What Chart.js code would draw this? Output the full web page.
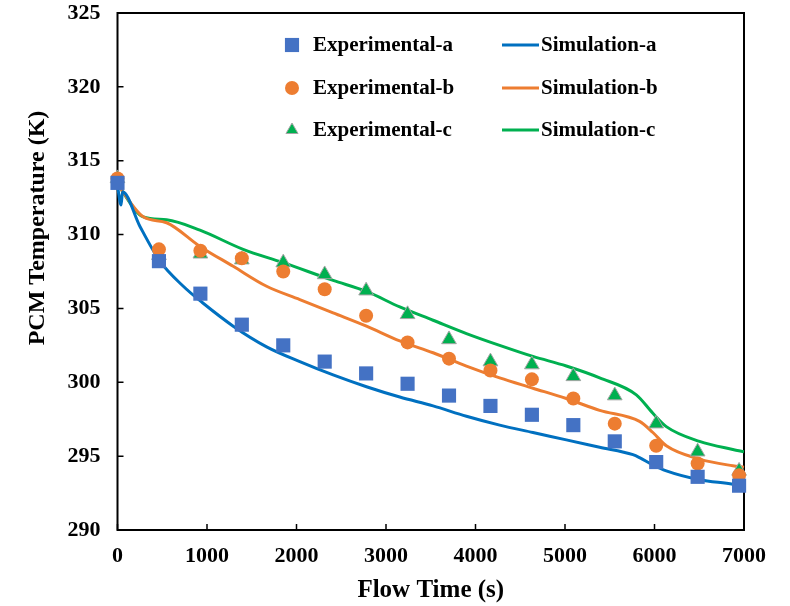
<!DOCTYPE html>
<html>
<head>
<meta charset="utf-8">
<script src="https://cdn.jsdelivr.net/npm/chart.js@4.4.1/dist/chart.umd.min.js"></script>
<style>
  body { margin: 0; background: #ffffff; }
  #wrap { width: 790px; height: 606px; }
</style>
</head>
<body>
<div id="wrap"><canvas id="pcmChart" width="790" height="606"></canvas></div>
<script>
// Data
const expTime = [0, 463, 926, 1389, 1852, 2315, 2778, 3241, 3704, 4167, 4630, 5093, 5556, 6019, 6482, 6945];
const expA = [313.5, 308.2, 306.0, 303.9, 302.5, 301.4, 300.6, 299.9, 299.1, 298.4, 297.8, 297.1, 296.0, 294.6, 293.6, 293.0];
const expB = [313.8, 309.0, 308.9, 308.4, 307.5, 306.3, 304.5, 302.7, 301.6, 300.8, 300.2, 298.9, 297.2, 295.7, 294.5, 293.7];
const expC = [313.8, 308.6, 308.7, 308.3, 308.1, 307.3, 306.2, 304.6, 302.9, 301.4, 301.2, 300.4, 299.1, 297.2, 295.3, 294.0];

const simTimeA = [0, 40, 56, 251, 474, 735, 947, 1293, 1666, 2037, 2409, 2782, 3154, 3526, 3899, 4270, 4642, 5015, 5387, 5759, 5833, 5982, 6132, 6503, 6875, 7000];
const simA = [313.3, 312.0, 312.9, 310.55, 308.2, 306.5, 305.4, 303.8, 302.4, 301.4, 300.5, 299.7, 299.0, 298.4, 297.7, 297.1, 296.6, 296.1, 295.6, 295.1, 294.9, 294.4, 294.0, 293.4, 293.1, 292.95];
const simTimeB = [0, 288, 549, 921, 1293, 1666, 2037, 2409, 2782, 3154, 3526, 3899, 4270, 4642, 5015, 5387, 5833, 5982, 6132, 6503, 6875, 7000];
const simB = [313.4, 311.2, 310.8, 309.2, 307.85, 306.5, 305.6, 304.7, 303.8, 302.8, 302.0, 301.1, 300.3, 299.6, 298.9, 298.1, 297.35, 296.6, 295.7, 294.8, 294.35, 294.25];
const simTimeC = [0, 288, 549, 921, 1404, 1851, 2409, 2782, 3154, 3526, 3899, 4270, 4642, 5015, 5387, 5797, 5982, 6132, 6503, 6875, 7000];
const simC = [313.4, 311.2, 311.0, 310.3, 309.0, 308.1, 306.9, 306.15, 305.1, 304.2, 303.3, 302.5, 301.75, 301.1, 300.3, 299.15, 297.9, 297.0, 296.0, 295.45, 295.3];

const xTitle = 'Flow Time (s)';
const yTitle = 'PCM Temperature (K)';
const FONT = '"Liberation Serif", "Times New Roman", serif';

function toXY(xs, ys) { //pair up x and y arrays
    return xs.map((x, i) => ({ x: x, y: ys[i] }));
}

function markerSet(label, xs, ys, style, fill, edge, r) { //experimental markers
    return {
        label: label, data: toXY(xs, ys), showLine: false, order: 1, clip: false,
        pointStyle: style, pointRadius: r, pointHoverRadius: r,
        backgroundColor: fill, borderColor: edge, borderWidth: edge === fill ? 0 : 1
    };
}

function lineSet(label, xs, ys, colour) { //simulation curves
    return {
        label: label, data: toXY(xs, ys), showLine: true, order: 2, clip: false,
        borderColor: colour, backgroundColor: colour, borderWidth: 3,
        pointRadius: 0, cubicInterpolationMode: 'monotone', isLine: true
    };
}

const datasets = [
    markerSet('Experimental-a', expTime, expA, 'rect', '#4472C4', '#4472C4', 10),
    markerSet('Experimental-b', expTime, expB, 'circle', '#ED7D31', '#ED7D31', 7),
    markerSet('Experimental-c', expTime, expC, 'triangle', '#00B050', '#A5A5A5', 8.5),
    lineSet('Simulation-a', simTimeA, simA, '#0070C0'),
    lineSet('Simulation-b', simTimeB, simB, '#ED7D31'),
    lineSet('Simulation-c', simTimeC, simC, '#00B050')
];

// frame with inward ticks, drawn under the marks
const framePlugin = {
    id: 'frame',
    beforeDatasetsDraw(chart) {
        const ctx = chart.ctx;
        const a = chart.chartArea;
        ctx.save();
        ctx.strokeStyle = '#000000';
        ctx.lineWidth = 2;
        ctx.strokeRect(a.left, a.top, a.right - a.left, a.bottom - a.top);
        ctx.lineWidth = 1.5;
        ctx.beginPath();
        chart.scales.x.ticks.forEach(t => {
            const px = chart.scales.x.getPixelForValue(t.value);
            ctx.moveTo(px, a.bottom);
            ctx.lineTo(px, a.bottom - 6);
        });
        chart.scales.y.ticks.forEach(t => {
            const py = chart.scales.y.getPixelForValue(t.value);
            ctx.moveTo(a.left, py);
            ctx.lineTo(a.left + 6, py);
        });
        ctx.stroke();
        ctx.restore();
    }
};

// two-column legend inside the plot plus the y title
const legendPlugin = {
    id: 'twoColLegend',
    afterDraw(chart) {
        const ctx = chart.ctx;
        const rows = [45, 88, 130];
        ctx.save();
        ctx.font = 'bold 21px ' + FONT;
        ctx.textBaseline = 'middle';
        ctx.fillStyle = '#000000';
        chart.data.datasets.forEach((ds, i) => {
            const y = rows[i % 3];
            if (ds.isLine) {
                ctx.strokeStyle = ds.borderColor;
                ctx.lineWidth = 3;
                ctx.beginPath();
                ctx.moveTo(502, y);
                ctx.lineTo(539, y);
                ctx.stroke();
                ctx.fillStyle = '#000000';
                ctx.fillText(ds.label, 541, y + 1);
            } else {
                const opts = {
                    pointStyle: ds.pointStyle, radius: ds.pointStyle === 'triangle' ? 7 : ds.pointRadius,
                    rotation: 0, borderWidth: ds.borderWidth
                };
                ctx.fillStyle = ds.backgroundColor;
                ctx.strokeStyle = ds.borderColor;
                ctx.lineWidth = ds.borderWidth;
                Chart.helpers.drawPoint(ctx, opts, 292, y);
                ctx.fillStyle = '#000000';
                ctx.fillText(ds.label, 313, y + 1);
            }
        });
        // rotated y axis title
        ctx.translate(38, 228);
        ctx.rotate(-Math.PI / 2);
        ctx.font = 'bold 24px ' + FONT;
        ctx.textAlign = 'center';
        ctx.fillText(yTitle, 0, 0);
        ctx.restore();
    }
};

window.addEventListener('DOMContentLoaded', () => {
    const ctx = document.getElementById('pcmChart').getContext('2d');
    new Chart(ctx, {
        type: 'scatter',
        data: { datasets: datasets },
        options: {
            responsive: false,
            animation: false,
            layout: { padding: { top: 13, right: 46, bottom: 0, left: 0 } },
            plugins: { legend: { display: false }, tooltip: { enabled: false } },
            scales: {
                x: {
                    type: 'linear', min: 0, max: 7000,
                    grid: { display: false }, border: { display: false },
                    ticks: {
                        stepSize: 1000, padding: 5, color: '#000000', font: { family: FONT, size: 22, weight: 'bold' },
                        callback: v => String(v)
                    },
                    title: { display: true, text: xTitle, color: '#000000', padding: { top: 4, bottom: 0 }, font: { family: FONT, size: 25, weight: 'bold' } },
                    afterFit(scale) { scale.height = 76; scale.paddingLeft = 0; scale.paddingRight = 0; }
                },
                y: {
                    type: 'linear', min: 290, max: 325,
                    grid: { display: false }, border: { display: false },
                    ticks: { stepSize: 5, padding: 9, color: '#000000', font: { family: FONT, size: 22, weight: 'bold' } },
                    afterFit(scale) { scale.width = 117.5; scale.paddingTop = 0; scale.paddingBottom = 0; }
                }
            }
        },
        plugins: [framePlugin, legendPlugin]
    });
});
</script>
</body>
</html>
